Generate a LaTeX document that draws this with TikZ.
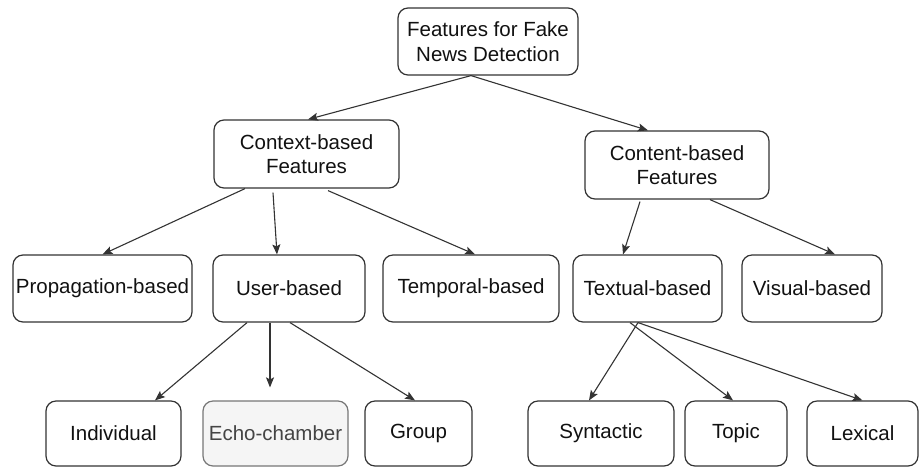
\documentclass[tikz,border=0pt]{standalone}
\usepackage{fontspec}
\setmainfont{Liberation Sans}
\usetikzlibrary{arrows.meta}
\definecolor{edgec}{HTML}{333333}
\definecolor{txtc}{HTML}{111111}
\definecolor{grayfill}{HTML}{F5F5F5}
\definecolor{graystroke}{HTML}{777777}
\definecolor{graytext}{HTML}{444444}
\begin{document}
\begin{tikzpicture}[x=1pt,y=-1pt,
  box/.style={draw=edgec, line width=1.2pt, rounded corners=10pt, align=center,
    inner sep=0pt, text=txtc, font=\fontsize{20.5}{24.5}\selectfont},
  graybox/.style={box, draw=graystroke, fill=grayfill, text=graytext},
  conn/.style={draw=edgec, line width=1.1pt, -{Stealth[length=10pt,width=8pt,inset=2pt]}}]
\useasboundingbox (0,0) rectangle (921,467);
% top
\node[box, minimum width=180pt, minimum height=67pt] (root) at (488,41.5) {Features for Fake\\News Detection};
\node[box, minimum width=185pt, minimum height=68pt] (ctx) at (306.5,154) {Context-based\\Features};
\node[box, minimum width=184pt, minimum height=68pt] (cnt) at (677,165) {Content-based\\Features};
% row 2
\node[box, minimum width=179pt, minimum height=67pt] (prop) at (102.5,288.5) {Propagation-based};
\node[box, minimum width=152pt, minimum height=67pt] (user) at (289,288.5) {User-based};
\node[box, minimum width=176pt, minimum height=67pt] (temp) at (471,288.5) {Temporal-based};
\node[box, minimum width=149pt, minimum height=67pt] (text) at (647.5,288.5) {Textual-based};
\node[box, minimum width=140pt, minimum height=67pt] (vis) at (812,288.5) {Visual-based};
% row 3
\node[box, minimum width=135pt, minimum height=65pt] (ind) at (113.5,433.5) {Individual};
\node[graybox, minimum width=145pt, minimum height=65pt] (echo) at (275.5,433.5) {Echo-chamber};
\node[box, minimum width=107pt, minimum height=65pt] (grp) at (418.5,433.5) {Group};
\node[box, minimum width=146pt, minimum height=65pt] (syn) at (601,433.5) {Syntactic};
\node[box, minimum width=102pt, minimum height=65pt] (top) at (736,433.5) {Topic};
\node[box, minimum width=111pt, minimum height=65pt] (lex) at (862.5,433.5) {Lexical};
% connectors
\draw[conn] ([xshift=-17pt]root.south) -- ([xshift=1.5pt]ctx.north);
\draw[conn] ([xshift=-17pt]root.south) -- ([xshift=-29pt]cnt.north);
\draw[conn] ([xshift=-61.5pt]ctx.south) -- (prop.north);
\draw[conn] ([xshift=-33.5pt,yshift=-4pt]ctx.south) -- ([xshift=-12pt]user.north);
\draw[conn] ([xshift=21.5pt,yshift=-2pt]ctx.south) -- ([xshift=4pt]temp.north);
\draw[conn] ([xshift=-37pt,yshift=-2pt]cnt.south) -- ([xshift=-24.5pt]text.north);
\draw[conn] ([xshift=33pt]cnt.south) -- ([xshift=23pt]vis.north);
\draw[conn] ([xshift=-42pt]user.south) -- ([xshift=41.5pt]ind.north);
\draw[conn] ([xshift=-19pt]user.south) -- ([xshift=-5.5pt,yshift=13pt]echo.north);
\draw[conn] ([xshift=1pt]user.south) -- ([xshift=-3.5pt]grp.north);
\draw[conn] ([xshift=-9.5pt]text.south) -- ([xshift=-12pt]syn.north);
\draw[conn] ([xshift=-17.5pt]text.south) -- ([xshift=-3pt]top.north);
\draw[conn] ([xshift=-9.5pt]text.south) -- (lex.north);
\end{tikzpicture}
\end{document}
